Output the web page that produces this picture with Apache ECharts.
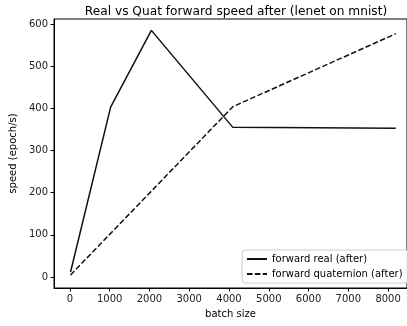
<!DOCTYPE html>
<html>
<head>
<meta charset="utf-8">
<script src="https://cdn.jsdelivr.net/npm/echarts@6/dist/echarts.min.js"></script>
<style>
  html, body { margin: 0; padding: 0; background: #fff; }
  #chart { width: 407px; height: 326px; }
</style>
</head>
<body>
<div id="chart"></div>
<script>
// values
const realX = [16, 1024, 2048, 4096, 8192]
const realY = [12, 403, 585, 355, 353]
const quatX = [16, 4096, 8192]
const quatY = [5, 404, 577]
const xTicks = [0, 1000, 2000, 3000, 4000, 5000, 6000, 7000, 8000]
const yTicks = [0, 100, 200, 300, 400, 500, 600]

const font = 'DejaVu Sans'
const chart = echarts.init(document.getElementById('chart'))

const pairs = (xs, ys) => xs.map((x, i) => [x, ys[i]])

chart.setOption({
    animation: false,
    title: {
        text: 'Real vs Quat forward speed after (lenet on mnist)',
        left: 231,
        textAlign: 'center',
        top: 1,
        textStyle: { fontFamily: font, fontSize: 12.2, fontWeight: 'normal', color: '#000' }
    },
    grid: {
        left: 54,
        top: 19,
        right: -2,
        bottom: 38,
        show: true,
        borderColor: '#000',
        borderWidth: 1
    },
    legend: {
        orient: 'vertical',
        left: 242,
        top: 250,
        padding: [4, 6, 4, 4],
        itemWidth: 20,
        itemHeight: 10,
        itemGap: 5,
        itemStyle: { opacity: 0 },
        backgroundColor: 'rgba(255,255,255,0.9)',
        borderColor: '#ccc',
        borderWidth: 1,
        borderRadius: 3,
        textStyle: { fontFamily: font, fontSize: 10, color: '#000' },
        data: ['forward real (after)', 'forward quaternion (after)']
    },
    xAxis: {
        type: 'value',
        min: -400,
        max: 8475,
        name: 'batch size',
        nameLocation: 'middle',
        nameGap: 21,
        nameTextStyle: { fontFamily: font, fontSize: 10, color: '#000' },
        splitLine: { show: false },
        axisLine: { onZero: false, lineStyle: { color: '#000' } },
        axisTick: { customValues: xTicks, length: 3.5, lineStyle: { color: '#000' } },
        axisLabel: {
            customValues: xTicks, fontFamily: font, fontSize: 10, color: '#222', margin: 6,
            formatter: v => String(v)
        }
    },
    yAxis: {
        type: 'value',
        min: -26,
        max: 612,
        name: 'speed (epoch/s)',
        nameLocation: 'middle',
        nameGap: 32,
        nameTextStyle: { fontFamily: font, fontSize: 10, color: '#000' },
        splitLine: { show: false },
        axisLine: { show: true, onZero: false, lineStyle: { color: '#000' } },
        axisTick: { show: true, customValues: yTicks, length: 3.5, lineStyle: { color: '#000' } },
        axisLabel: {
            customValues: yTicks, fontFamily: font, fontSize: 10, color: '#222', margin: 6,
            formatter: v => String(v)
        }
    },
    series: [
        {
            name: 'forward real (after)',
            type: 'line',
            data: pairs(realX, realY),
            symbol: 'none',
            color: '#111',
            lineStyle: { color: '#111', width: 1.5 }
        },
        {
            name: 'forward quaternion (after)',
            type: 'line',
            data: pairs(quatX, quatY),
            symbol: 'none',
            color: '#111',
            lineStyle: { color: '#111', width: 1.5, type: [5.5, 2.4] }
        }
    ]
})
</script>
</body>
</html>
